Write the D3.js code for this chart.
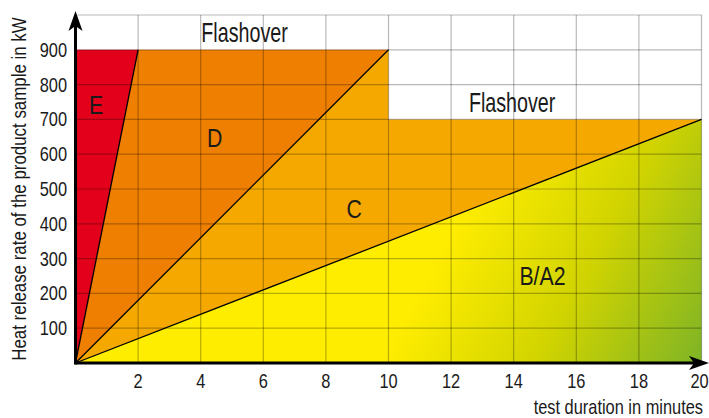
<!DOCTYPE html>
<html>
<head>
<meta charset="utf-8">
<script src="https://cdn.jsdelivr.net/npm/d3@7"></script>
<style>
html,body{margin:0;padding:0;background:#fff;}
svg text{font-family:"Liberation Sans","Arial",sans-serif;fill:#1a1a1a;}
</style>
</head>
<body>
<svg id="chart" width="709" height="418"></svg>
<script>
// Data
const xTicks = [2, 4, 6, 8, 10, 12, 14, 16, 18, 20];
const yTicks = [100, 200, 300, 400, 500, 600, 700, 800, 900];
const gridY = [100, 200, 300, 400, 500, 600, 700, 800, 900, 1000];
const classNames = ["E", "D", "C", "B/A2"];
const classColors = ["#e2001a", "#ee7f00", "#f5a800", "url(#gradB)"];
// Region boundaries [minutes, kW]
const regionE = [[0, 0], [0, 900], [2, 900]];
const regionD = [[0, 0], [2, 900], [10, 900]];
const regionC = [[0, 0], [10, 900], [10, 700], [20, 700]];
const regionB = [[0, 0], [20, 700], [20, 0]];
const boundaryLines = [[[0, 0], [2, 900]], [[0, 0], [10, 900]], [[0, 0], [20, 700]]];
const classLabelPos = [[0.66, 715], [4.45, 621], [8.9, 417], [14.92, 224]];
const classLabelSize = [26, 26, 26, 26];
const flashoverLabels = [[5.4, 923], [13.95, 722]];

const svg = d3.select("#chart");
const x = d3.scaleLinear().domain([0, 20]).range([75.5, 701.5]);
const y = d3.scaleLinear().domain([0, 1000]).range([363, 15]);
const NARROW = 0.82;

function narrowText(sel, px, py, anchor, size, str, rot, sx) {
  const gg = sel.append("g").attr("transform", `translate(${px},${py})` + (rot ? ` rotate(${rot})` : "") + ` scale(${sx || NARROW},1)`);
  return gg.append("text").attr("x", 0).attr("y", 0).attr("text-anchor", anchor).attr("font-size", size).text(str);
}

const defs = svg.append("defs");
const grad = defs.append("linearGradient").attr("id", "gradB")
  .attr("gradientUnits", "userSpaceOnUse")
  .attr("x1", x(12)).attr("y1", y(380)).attr("x2", x(20.5)).attr("y2", y(-30));
grad.append("stop").attr("offset", "0").attr("stop-color", "#ffed00");
grad.append("stop").attr("offset", "0.45").attr("stop-color", "#d2d400");
grad.append("stop").attr("offset", "1").attr("stop-color", "#74b02a");

const line = d3.line().x(d => x(d[0])).y(d => y(d[1]));
const regions = [regionE, regionD, regionC, regionB];
svg.append("g").selectAll("path").data(regions).join("path")
  .attr("d", d => line(d) + "Z")
  .attr("fill", (d, i) => classColors[i]);

// grid
const g = svg.append("g").attr("stroke", "rgba(0,0,0,0.28)").attr("stroke-width", 1.2);
g.selectAll("line.h").data(gridY).join("line").attr("class", "h")
  .attr("x1", x(0)).attr("x2", x(20)).attr("y1", d => y(d)).attr("y2", d => y(d));
g.selectAll("line.v").data(xTicks).join("line").attr("class", "v")
  .attr("x1", d => x(d)).attr("x2", d => x(d)).attr("y1", y(0)).attr("y2", y(1000));

// boundary lines
svg.append("g").selectAll("path").data(boundaryLines).join("path")
  .attr("d", line).attr("stroke", "#000").attr("stroke-width", 1.3).attr("fill", "none");

// axes
svg.append("line").attr("x1", x(0)).attr("x2", 700).attr("y1", y(0)).attr("y2", y(0))
  .attr("stroke", "#000").attr("stroke-width", 3);
svg.append("path").attr("d", `M709,${y(0)} L689,${y(0) - 7} L694,${y(0)} L689,${y(0) + 7} Z`).attr("fill", "#000");
svg.append("line").attr("x1", x(0)).attr("x2", x(0)).attr("y1", y(0) + 1.5).attr("y2", 22)
  .attr("stroke", "#000").attr("stroke-width", 3);
svg.append("path").attr("d", `M${x(0)},11 L${x(0) - 7},31 L${x(0)},26 L${x(0) + 7},31 Z`).attr("fill", "#000");

// tick labels
const xt = svg.append("g");
xTicks.forEach(d => narrowText(xt, d === 20 ? x(d) - 2 : x(d), 388, "middle", 20, d));
const yt = svg.append("g");
yTicks.forEach(d => narrowText(yt, 67, y(d) + 7, "end", 20, d));

// axis titles
narrowText(svg, 703, 414, "end", 20, "test duration in minutes");
narrowText(svg, 26, 189, "middle", 20.6, "Heat release rate of the product sample in kW", -90);

// class labels
const cl = svg.append("g");
classNames.forEach((d, i) => narrowText(cl, x(classLabelPos[i][0]), y(classLabelPos[i][1]), "middle", classLabelSize[i], d).attr("fill", "#000"));

// flashover labels
const fl = svg.append("g");
flashoverLabels.forEach(d => narrowText(fl, x(d[0]), y(d[1]), "middle", 27, "Flashover", 0, 0.73));
</script>
</body>
</html>
